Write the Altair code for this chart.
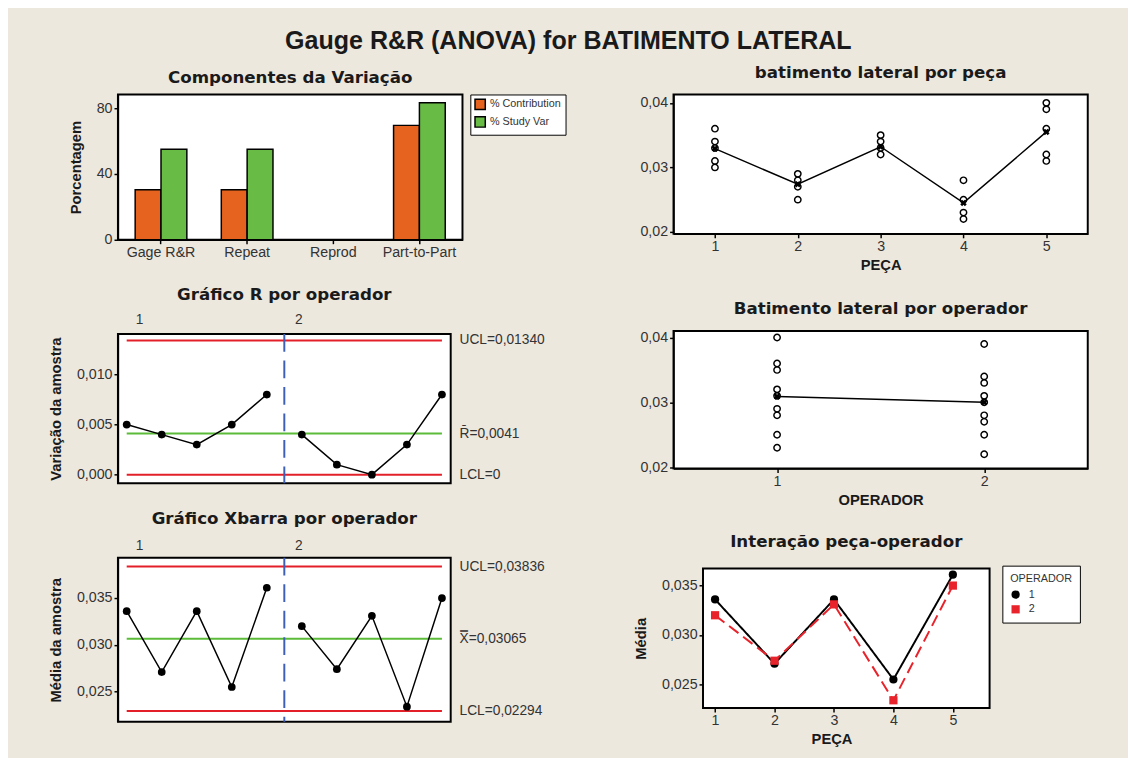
import altair as alt
import pandas as pd

# ---------------- data ----------------
componentes = ["Gage R&R", "Repeat", "Reprod", "Part-to-Part"]
pct_contribution = [30.4, 30.4, 0.0, 69.6]
pct_study_var = [55.1, 55.1, 0.0, 83.4]
medidas = ["% Contribution", "% Study Var"]

amostras = [1, 2, 3, 4, 5, 6, 7, 8, 9, 10]
operador_amostra = ["1", "1", "1", "1", "1", "2", "2", "2", "2", "2"]
peca_amostra = [1, 2, 3, 4, 5, 1, 2, 3, 4, 5]
amplitudes = [0.005, 0.004, 0.003, 0.005, 0.008, 0.004, 0.001, 0.000, 0.003, 0.008]
medias = [0.0336, 0.0271, 0.0336, 0.0255, 0.0361, 0.0320, 0.0274, 0.0331, 0.0234, 0.0350]

tipos_limite = ["UCL", "CL", "LCL"]
r_limites = [0.01340, 0.0041, 0.0]
r_rotulos = ["UCL=0,01340", "R\u0304=0,0041", "LCL=0"]
x_limites = [0.03836, 0.03065, 0.02294]
x_rotulos = ["UCL=0,03836", "X\u033f=0,03065", "LCL=0,02294"]

pecas = [1, 2, 3, 4, 5]
peca_1 = [0.036, 0.034, 0.033, 0.031, 0.030]
peca_2 = [0.029, 0.028, 0.027, 0.025]
peca_3 = [0.035, 0.034, 0.033, 0.032]
peca_4 = [0.028, 0.025, 0.023, 0.022]
peca_5 = [0.040, 0.039, 0.036, 0.032, 0.031]
media_por_peca = [0.0329, 0.0274, 0.0332, 0.0245, 0.0355]

operadores = ["1", "2"]
operadores_num = [1, 2]
operador_1 = [0.040, 0.036, 0.035, 0.032, 0.031, 0.029, 0.028, 0.025, 0.023]
operador_2 = [0.039, 0.034, 0.033, 0.031, 0.030, 0.028, 0.027, 0.025, 0.022]
media_por_operador = [0.0309, 0.0300]

# ---------------- style ----------------
BEGE = "#EDE8DE"
LARANJA = "#E5621F"
VERDE = "#68BC45"
VERMELHO = "#E3202A"
VERDE_LINHA = "#5DBB3A"
AZUL = "#3D5FB8"
VERMELHO_INT = "#E8232B"
TEXTO = "#333333"
FONTE = "Liberation Sans"


def rotulo_expr(fmt):
    return f"replace(format(datum.value, '{fmt}'), '.', ',')"


# ---------------- Componentes da Variação ----------------
df_bar = pd.DataFrame({
    "Componente": componentes * 2,
    "Medida": [medidas[0]] * len(componentes) + [medidas[1]] * len(componentes),
    "Porcentagem": pct_contribution + pct_study_var,
})

barras = alt.Chart(df_bar).mark_bar(stroke="black", strokeWidth=1.5).encode(
    x=alt.X("Componente:N", sort=componentes,
            scale=alt.Scale(paddingInner=0.4, paddingOuter=0.2),
            axis=alt.Axis(title=None, labelAngle=0)),
    xOffset=alt.XOffset("Medida:N", sort=medidas),
    y=alt.Y("Porcentagem:Q", scale=alt.Scale(domain=[0, 88.4], nice=False),
            axis=alt.Axis(values=[0, 40, 80], title="Porcentagem")),
    fill=alt.Fill("Medida:N", sort=medidas,
                  scale=alt.Scale(domain=medidas, range=[LARANJA, VERDE]),
                  legend=alt.Legend(orient="none", legendX=359, legendY=0, title=None,
                                    symbolType="square", symbolSize=110,
                                    symbolStrokeColor="black", symbolStrokeWidth=1.5,
                                    labelFontSize=11, labelColor=TEXTO,
                                    strokeColor="black", fillColor="white",
                                    padding=4, rowPadding=0)),
).properties(width=351, height=148, title="Componentes da Variação")

# ---------------- control charts ----------------
df_amostras = pd.DataFrame({
    "Amostra": amostras, "Operador": operador_amostra, "Peca": peca_amostra,
    "R": amplitudes, "Media": medias,
})
fim_op1 = max(a for a, o in zip(amostras, operador_amostra) if o == operadores[0])
ini_op2 = min(a for a, o in zip(amostras, operador_amostra) if o == operadores[1])
df_div = pd.DataFrame({"divisa": [(fim_op1 + ini_op2) / 2]})
df_op = pd.DataFrame({
    "Operador": operadores,
    "inicio": [min(a for a, o in zip(amostras, operador_amostra) if o == op) for op in operadores],
})

X_DOM = [0.75, 10.25]


def carta_controle(campo, limites, rotulos, ydom, yvalues, fmt, ytitulo, titulo, altura,
                   dy_op, titulo_offset):
    xs = alt.Scale(domain=X_DOM, nice=False, zero=False)
    ys = alt.Scale(domain=ydom, nice=False, zero=False)
    xq = lambda f: alt.X(f"{f}:Q", scale=xs, axis=None)
    yq = lambda f: alt.Y(f"{f}:Q", scale=ys,
                         axis=alt.Axis(values=yvalues, labelExpr=rotulo_expr(fmt), title=ytitulo))
    df_lim = pd.DataFrame({
        "valor": limites, "tipo": tipos_limite, "rotulo": rotulos,
        "ini": [min(amostras)] * len(limites), "fim": [max(amostras)] * len(limites),
        "borda": [X_DOM[1]] * len(limites),
    })
    camadas = []
    for tipos, cor in [(["UCL", "LCL"], VERMELHO), (["CL"], VERDE_LINHA)]:
        camadas.append(
            alt.Chart(df_lim[df_lim["tipo"].isin(tipos)]).mark_rule(strokeWidth=2, color=cor)
            .encode(x=xq("ini"), x2="fim:Q", y=yq("valor"))
        )
    camadas.append(
        alt.Chart(df_div).mark_rule(color=AZUL, strokeDash=[18, 9], strokeWidth=2)
        .encode(x=xq("divisa"))
    )
    base = alt.Chart(df_amostras)
    camadas.append(base.mark_line(color="black", strokeWidth=1.5)
                   .encode(x=xq("Amostra"), y=yq(campo), detail="Operador:N"))
    camadas.append(base.mark_circle(color="black", size=62, opacity=1)
                   .encode(x=xq("Amostra"), y=yq(campo)))
    camadas.append(
        alt.Chart(df_lim).mark_text(align="left", baseline="middle", dx=9,
                                    fontSize=14, font=FONTE, color=TEXTO)
        .encode(x=xq("borda"), y=yq("valor"), text="rotulo:N")
    )
    df_op2 = df_op.assign(topo=ydom[1])
    for op, dx in zip(operadores, [13, -3]):
        camadas.append(
            alt.Chart(df_op2[df_op2["Operador"] == op])
            .mark_text(fontSize=14, font=FONTE, color=TEXTO, dx=dx, dy=dy_op, baseline="middle")
            .encode(x=xq("inicio"), y=yq("topo"), text="Operador:N")
        )
    return alt.layer(*camadas).properties(
        width=339, height=altura, title=alt.TitleParams(titulo, offset=titulo_offset))


carta_r = carta_controle("R", r_limites, r_rotulos, [-0.00085, 0.01404],
                         [0.0, 0.005, 0.010], ".3f", "Variação da amostra",
                         "Gráfico R por operador", 152, -14, 10)
carta_x = carta_controle("Media", x_limites, x_rotulos, [0.02179, 0.0393],
                         [0.025, 0.030, 0.035], ".3f", "Média da amostra",
                         "Gráfico Xbarra por operador", 167, -12, 11)

# ---------------- batimento lateral por peça ----------------
df_pp = pd.DataFrame({
    "Peca": [1] * len(peca_1) + [2] * len(peca_2) + [3] * len(peca_3) + [4] * len(peca_4) + [5] * len(peca_5),
    "Valor": peca_1 + peca_2 + peca_3 + peca_4 + peca_5,
})
df_pm = pd.DataFrame({"Peca": pecas, "Valor": media_por_peca})
xs_p = alt.Scale(domain=[0.5, 5.5], nice=False, zero=False)
ys_p = alt.Scale(domain=[0.0197, 0.0413], nice=False, zero=False)
xp = alt.X("Peca:Q", scale=xs_p, axis=alt.Axis(values=pecas, format="d", title="PEÇA"))
yp = alt.Y("Valor:Q", scale=ys_p,
           axis=alt.Axis(values=[0.02, 0.03, 0.04], labelExpr=rotulo_expr(".2f"), title=None))

circ_p = alt.Chart(df_pp).mark_point(shape="circle", filled=False, color="black",
                                     size=42, strokeWidth=1.5, opacity=1).encode(x=xp, y=yp)
lin_p = alt.Chart(df_pm).mark_line(color="black", strokeWidth=1.5).encode(x=xp, y=yp)
cruz_p = alt.Chart(df_pm).mark_point(shape="cross", angle=45, filled=True, color="black",
                                     size=45, opacity=1).encode(x=xp, y=yp)
por_peca = alt.layer(circ_p, lin_p, cruz_p).properties(
    width=422, height=142, title=alt.TitleParams("batimento lateral por peça", offset=13))

# ---------------- batimento lateral por operador ----------------
df_po = pd.DataFrame({
    "Operador": [operadores_num[0]] * len(operador_1) + [operadores_num[1]] * len(operador_2),
    "Valor": operador_1 + operador_2,
})
df_pom = pd.DataFrame({"Operador": operadores_num, "Valor": media_por_operador})
xs_o = alt.Scale(domain=[0.5, 2.5], nice=False, zero=False)
ys_o = alt.Scale(domain=[0.0198, 0.0410], nice=False, zero=False)
xo = alt.X("Operador:Q", scale=xs_o,
           axis=alt.Axis(values=operadores_num, format="d", title="OPERADOR"))
yo = alt.Y("Valor:Q", scale=ys_o,
           axis=alt.Axis(values=[0.02, 0.03, 0.04], labelExpr=rotulo_expr(".2f"), title=None))
circ_o = alt.Chart(df_po).mark_point(shape="circle", filled=False, color="black",
                                     size=42, strokeWidth=1.5, opacity=1).encode(x=xo, y=yo)
lin_o = alt.Chart(df_pom).mark_line(color="black", strokeWidth=1.5).encode(x=xo, y=yo)
cruz_o = alt.Chart(df_pom).mark_point(shape="cross", angle=45, filled=True, color="black",
                                      size=45, opacity=1).encode(x=xo, y=yo)
por_operador = alt.layer(circ_o, lin_o, cruz_o).properties(
    width=422, height=140, title=alt.TitleParams("Batimento lateral por operador", offset=12))

# ---------------- Interação peça-operador ----------------
# plot area is widened 30 px to the left so that the framed area sits where the original one does
XI_DOM = [0.301, 5.618]
XI_MOLDURA = 0.797
YI_DOM = [0.02262, 0.03672]
xs_i = alt.Scale(domain=XI_DOM, nice=False, zero=False)
ys_i = alt.Scale(domain=YI_DOM, nice=False, zero=False)
xi = lambda f: alt.X(f"{f}:Q", scale=xs_i,
                     axis=alt.Axis(values=pecas, format="d", title="PEÇA", domain=False))
yi = lambda f: alt.Y(f"{f}:Q", scale=ys_i,
                     axis=alt.Axis(values=[0.025, 0.030, 0.035], labelExpr=rotulo_expr(".3f"),
                                   title="Média", offset=-30, domain=False))
df_moldura = pd.DataFrame({"x0": [XI_MOLDURA], "x1": [XI_DOM[1]],
                           "y0": [YI_DOM[0]], "y1": [YI_DOM[1]]})
moldura = alt.Chart(df_moldura).mark_rect(fill="white", stroke="black", strokeWidth=2).encode(
    x=xi("x0"), x2="x1:Q", y=yi("y0"), y2="y1:Q"
)
camadas_i = [moldura]
for op, cor, traco in zip(operadores, ["black", VERMELHO_INT], [[1, 0], [12, 6]]):
    camadas_i.append(
        alt.Chart(df_amostras[df_amostras["Operador"] == op])
        .mark_line(strokeWidth=2, color=cor, strokeDash=traco)
        .encode(x=xi("Peca"), y=yi("Media"))
    )
# legends placed with orient "none" are positioned relative to the column's first plot area
leg_int = alt.Legend(orient="none", legendX=335, legendY=480, title="OPERADOR",
                     titleFontSize=11, titleFontWeight="normal", titleColor=TEXTO,
                     labelFontSize=11, labelColor=TEXTO, symbolSize=70,
                     strokeColor="black", fillColor="white", padding=8, rowPadding=3,
                     labelOffset=8)
camadas_i.append(
    alt.Chart(df_amostras).mark_point(filled=True, opacity=1, size=70).encode(
        x=xi("Peca"), y=yi("Media"),
        color=alt.Color("Operador:N", scale=alt.Scale(domain=operadores, range=["black", VERMELHO_INT]),
                        legend=leg_int),
        shape=alt.Shape("Operador:N", scale=alt.Scale(domain=operadores, range=["circle", "square"]),
                        legend=leg_int),
    )
)
interacao = alt.layer(*camadas_i).properties(
    width=322, height=142,
    title=alt.TitleParams("Interação peça-operador", dx=15, offset=17),
    view=alt.ViewBackground(fill=BEGE, stroke=BEGE, strokeWidth=0),
)

# ---------------- layout ----------------
esquerda = alt.vconcat(barras, carta_r, carta_x, spacing=25)
direita = alt.vconcat(por_peca, por_operador, interacao, spacing=25)

chart = alt.hconcat(esquerda, direita, spacing=89).resolve_scale(
    color="independent", shape="independent"
).properties(
    title=alt.TitleParams("Gauge R&R (ANOVA) for BATIMENTO LATERAL", font=FONTE,
                          fontSize=25.5, fontWeight="bold", anchor="middle", frame="bounds",
                          color="#1a1a1a", offset=9),
    padding={"left": 40, "top": 14, "right": 40, "bottom": 12},
    background=BEGE,
).configure_view(
    stroke="black", strokeWidth=2, fill="white"
).configure_axis(
    labelFont=FONTE, labelFontSize=14.5, labelColor=TEXTO,
    titleFont=FONTE, titleFontSize=15, titleFontWeight="bold", titleColor="#1a1a1a",
    domainColor="black", domainWidth=1.5, tickColor="black", tickWidth=1.5, tickSize=4,
    grid=False,
).configure_axisY(
    titlePadding=13,
).configure_axisX(
    titlePadding=5,
).configure_title(
    font="DejaVu Sans", fontSize=17, fontWeight="bold", color="#1a1a1a",
    anchor="middle", frame="group", offset=8,
).configure_legend(
    labelFont=FONTE, titleFont=FONTE,
)

chart.save("out.html", embed_options={"renderer": "svg", "actions": False})
